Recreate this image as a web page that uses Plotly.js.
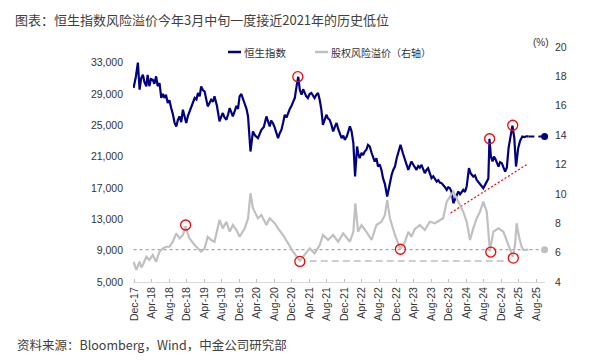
<!DOCTYPE html>
<html><head><meta charset="utf-8">
<script src="https://cdn.plot.ly/plotly-3.0.1.min.js"></script>
<style>html,body{margin:0;padding:0;background:#fff}#chart{width:600px;height:364px}</style>
</head><body><div id="chart"></div>
<script>
const hsiDates = ['2017-11-24','2017-12-10','2017-12-24',
'2018-01-05','2018-01-16','2018-01-28','2018-02-08','2018-02-21','2018-03-02','2018-03-14','2018-03-25','2018-04-07','2018-04-18','2018-04-30','2018-05-11','2018-05-24','2018-06-05','2018-06-16','2018-06-27','2018-07-08','2018-07-20','2018-08-01','2018-08-13','2018-08-24','2018-09-06','2018-09-18','2018-09-29','2018-10-10','2018-10-22','2018-11-03','2018-11-15','2018-11-26','2018-12-08','2018-12-19',
'2019-01-05','2019-01-24','2019-02-05','2019-02-16','2019-02-28','2019-03-10','2019-03-22','2019-04-03','2019-04-25','2019-05-07','2019-05-19','2019-06-01','2019-06-11','2019-06-28','2019-07-16','2019-07-28','2019-08-08','2019-08-20','2019-09-02','2019-09-14','2019-09-25','2019-10-06','2019-10-17','2019-10-30','2019-11-11','2019-11-22','2019-12-03','2019-12-15','2019-12-27',
'2020-01-08','2020-01-20','2020-01-31','2020-02-17','2020-03-05','2020-03-20','2020-04-09','2020-04-21','2020-05-03','2020-05-20','2020-06-07','2020-06-18','2020-06-30','2020-07-10','2020-07-22','2020-08-04','2020-08-27','2020-09-08','2020-09-20','2020-10-01','2020-10-13','2020-10-25','2020-11-05','2020-11-17','2020-11-29','2020-12-10','2020-12-22',
'2021-01-03','2021-01-15','2021-01-26','2021-02-07','2021-02-18','2021-03-01','2021-03-12','2021-03-23','2021-04-04','2021-04-16','2021-04-28','2021-05-09','2021-05-21','2021-06-02','2021-06-14','2021-06-25','2021-07-06','2021-07-18','2021-07-30','2021-08-10','2021-08-22','2021-09-03','2021-09-15','2021-09-27','2021-10-09','2021-10-21','2021-11-01','2021-11-13','2021-11-25','2021-12-06','2021-12-20',
'2022-01-10','2022-01-22','2022-02-03','2022-02-15','2022-03-01','2022-03-10','2022-03-19','2022-04-01','2022-04-12','2022-04-23','2022-05-05','2022-05-16','2022-05-28','2022-06-10','2022-06-21','2022-07-02','2022-07-14','2022-07-25','2022-08-06','2022-08-18','2022-08-29','2022-09-11','2022-09-27','2022-10-16','2022-10-28','2022-11-08','2022-11-20','2022-12-02','2022-12-14','2022-12-29',
'2023-01-15','2023-01-29','2023-02-10','2023-02-21','2023-03-04','2023-03-15','2023-03-27','2023-04-07','2023-04-19','2023-05-01','2023-05-12','2023-05-24','2023-06-05','2023-06-16','2023-06-28','2023-07-09','2023-07-21','2023-08-02','2023-08-14','2023-08-25','2023-09-07','2023-09-18','2023-09-29','2023-10-11','2023-10-22','2023-11-04','2023-11-16','2023-11-27','2023-12-08','2023-12-20',
'2024-01-01','2024-01-12','2024-01-24','2024-02-05','2024-02-17','2024-02-28','2024-03-10','2024-03-22','2024-04-03','2024-04-19','2024-04-30','2024-05-19','2024-05-31','2024-06-12','2024-06-23','2024-07-05','2024-07-17','2024-07-28','2024-08-09','2024-08-21','2024-09-01','2024-09-09','2024-09-19','2024-09-30','2024-10-10','2024-10-18','2024-10-30','2024-11-11','2024-11-22','2024-12-04','2024-12-16','2024-12-27',
'2025-01-08','2025-01-20','2025-02-02','2025-02-16','2025-03-01','2025-03-13','2025-03-28','2025-04-10','2025-04-26','2025-05-10','2025-05-25','2025-06-07'];
const hsiValues = [29770,31200,33000,
29550,31000,31450,30500,29970,31450,30000,30900,30800,30300,31250,30000,30400,28500,29000,28500,28900,27850,28200,27200,26500,25300,24860,25700,26140,25400,27000,26100,25290,26200,26780,
27600,28490,28300,29130,28700,29970,29500,29340,27420,27900,28270,28000,28700,27500,25500,26100,26570,26000,25710,26400,27200,26700,26140,26800,27500,27100,28700,29000,28400,
27630,27100,26140,21660,24220,23700,23370,23900,24440,24800,26140,25500,24860,25600,25290,24700,23370,24000,24440,25300,26350,26000,26570,27100,27500,28060,28500,
29970,31200,29500,28910,29600,29130,28700,28490,29000,29130,28700,28490,28900,29130,28200,27000,25070,25800,26350,25900,25710,25100,24220,24800,25290,24500,24000,23370,23700,23150,23600,
24860,24200,22730,18470,22300,21300,20820,21500,21200,21660,21900,22500,22300,21500,20900,20380,20800,19740,20000,19300,18260,17500,15910,17830,18700,19300,19740,20800,21700,22520,
21400,20600,20100,19320,19900,20380,20000,19740,19320,19800,19600,19960,19500,18900,19300,19530,18900,18260,18500,18100,17830,18000,17700,17620,17300,17100,16760,17100,16980,16500,
15060,15600,16200,16550,16200,16500,16760,16500,17190,19530,18900,18470,18600,18040,17800,17620,17300,16980,17400,17830,18200,23290,21000,20380,21000,20800,20200,19740,20300,20170,19600,19100,
19600,22090,23500,24950,23370,19740,22090,23000,23580,23500,23600,23580];

const erpDates = ['2017-11-24','2017-12-13','2018-01-05','2018-01-17','2018-01-28','2018-02-21','2018-03-14','2018-04-07','2018-04-30','2018-05-23','2018-06-16','2018-07-09','2018-08-02','2018-08-24','2018-09-18','2018-10-10','2018-11-03','2018-11-22','2018-12-06','2018-12-19','2019-01-24','2019-02-16','2019-03-10','2019-04-03','2019-04-25','2019-05-19','2019-06-11','2019-07-16','2019-08-08','2019-09-02','2019-09-25','2019-10-17','2019-11-11','2019-12-03','2020-01-08','2020-01-31','2020-02-17','2020-03-05','2020-04-09','2020-05-03','2020-06-07','2020-06-30','2020-08-04','2020-08-27','2020-10-01','2020-11-05','2020-12-10','2021-01-26','2021-03-01','2021-04-05','2021-05-09','2021-06-14','2021-07-06','2021-08-11','2021-09-15','2021-10-20','2021-11-24','2022-01-10','2022-02-03','2022-02-17','2022-03-08','2022-04-01','2022-05-05','2022-06-10','2022-07-14','2022-08-18','2022-09-11','2022-09-27','2022-10-16','2022-11-20','2022-12-26','2023-01-29','2023-02-21','2023-03-15','2023-04-07','2023-05-12','2023-06-16','2023-07-21','2023-08-25','2023-09-29','2023-10-22','2023-11-16','2023-12-08','2024-01-01','2024-02-05','2024-03-10','2024-04-03','2024-04-26','2024-05-19','2024-06-12','2024-07-05','2024-07-28','2024-08-21','2024-09-12','2024-10-06','2024-11-11','2024-12-15','2025-01-08','2025-02-01','2025-02-19','2025-03-06','2025-03-17','2025-04-03','2025-04-21','2025-05-03','2025-06-07'];
const erpValues = [5.38,4.82,5.38,5.0,5.16,5.72,5.50,5.84,5.38,6.06,6.29,6.40,6.40,6.74,7.31,6.97,7.20,7.80,7.30,6.97,6.52,6.29,6.06,6.29,7.08,6.86,6.74,8.22,7.65,8.10,7.42,7.88,7.54,7.08,7.65,8.34,10.04,9.02,8.34,8.56,7.88,8.34,8.00,7.65,7.20,6.63,6.06,5.45,5.84,6.29,5.95,6.52,7.20,6.86,7.20,6.74,7.31,6.74,7.42,9.36,7.42,7.88,7.42,6.86,7.88,8.10,8.56,9.58,8.34,7.20,6.25,6.74,7.42,7.08,7.60,7.88,7.54,8.10,8.00,8.22,8.34,9.47,9.81,10.15,9.47,8.79,8.10,6.86,7.65,8.34,8.79,9.47,8.79,6.10,7.42,7.65,7.42,6.86,6.18,5.70,6.52,8.00,7.08,6.40,6.18,6.20];

// reference levels & projections
const erpLevelDates = ['2017-11-24','2025-09-28'];
const erpLevelValues = [6.2,6.2];
const erpLowDates = ['2021-04-05','2025-01-20'];
const erpLowValues = [5.43,5.43];
const hsiExtDates = ['2025-06-07','2025-09-28'];
const hsiExtValues = [23580,23580];
const trendDates = ['2023-12-13','2025-06-04'];
const trendValues = [13820,20090];

// highlighted points
const circHsiDates = ['2021-01-12','2024-09-10','2025-02-18'];
const circHsiValues = [31210,23290,25010];
const circErpDates = ['2018-11-22','2021-01-26','2022-12-28','2024-09-18','2025-02-22'];
const circErpValues = [7.88,5.40,6.23,6.04,5.63];

const tickDates = ['2017-12-01','2018-04-01','2018-08-01','2018-12-01','2019-04-01','2019-08-01','2019-12-01','2020-04-01','2020-08-01','2020-12-01','2021-04-01','2021-08-01','2021-12-01','2022-04-01','2022-08-01','2022-12-01','2023-04-01','2023-08-01','2023-12-01','2024-04-01','2024-08-01','2024-12-01','2025-04-01','2025-08-01'];
const leftTicks = [5000,9000,13000,17000,21000,25000,29000,33000];
const rightTicks = [4,6,8,10,12,14,16,18,20];

const NAVY = '#000080', GREY = '#C0C0C0', RED = '#FF0000';
const LAT = 'Liberation Sans, Arial, Noto Sans CJK SC, sans-serif';
const CJK = 'Noto Sans CJK SC, Liberation Sans, sans-serif';

const last = a => [a[a.length - 1]];

const traces = [
  {x: erpLevelDates, y: erpLevelValues, yaxis: 'y2', mode: 'lines', line: {color: '#A6A6A6', width: 1.2, dash: '3px,3px'}},
  {x: last(erpLevelDates), y: last(erpLevelValues), yaxis: 'y2', mode: 'markers', marker: {size: 7, color: '#BFBFBF'}, cliponaxis: false},
  {x: erpLowDates, y: erpLowValues, yaxis: 'y2', mode: 'lines', line: {color: '#BFBFBF', width: 1.5, dash: '7px,4px'}},
  {x: erpDates, y: erpValues, yaxis: 'y2', mode: 'lines', line: {color: GREY, width: 2.2}},
  {x: hsiDates, y: hsiValues, yaxis: 'y', mode: 'lines', line: {color: NAVY, width: 2.2}},
  {x: hsiExtDates, y: hsiExtValues, yaxis: 'y', mode: 'lines', line: {color: NAVY, width: 2, dash: '6px,4px'}},
  {x: last(hsiExtDates), y: last(hsiExtValues), yaxis: 'y', mode: 'markers', marker: {size: 7, color: NAVY}, cliponaxis: false},
  {x: trendDates, y: trendValues, yaxis: 'y', mode: 'lines', line: {color: RED, width: 1.2, dash: '2px,2px'}},
  {x: circHsiDates, y: circHsiValues, yaxis: 'y', mode: 'markers', marker: {symbol: 'circle-open', size: 10, color: RED, line: {width: 1.3, color: RED}}, cliponaxis: false},
  {x: circErpDates, y: circErpValues, yaxis: 'y2', mode: 'markers', marker: {symbol: 'circle-open', size: 10, color: RED, line: {width: 1.3, color: RED}}, cliponaxis: false}
];

const L = 133, T = 47, W = 412, H = 235;
const px = v => (v - L) / W, py = v => (T + H - v) / H;

const layout = {
  width: 600, height: 364,
  margin: {l: L, r: 600 - L - W, t: T, b: 364 - T - H},
  paper_bgcolor: '#fff', plot_bgcolor: '#fff',
  showlegend: false,
  font: {family: LAT, size: 10.5, color: '#333'},
  title: {text: '图表：恒生指数风险溢价今年3月中旬一度接近2021年的历史低位', x: 15/600, xanchor: 'left', xref: 'container', y: 1 - 20/364, yanchor: 'middle', yref: 'container', font: {family: CJK, size: 13, color: '#404040', weight: 400}},
  xaxis: {type: 'date', range: ['2017-11-20','2025-10-01'], tickvals: tickDates, tickformat: '%b-%y', tickangle: -90, ticks: 'inside', ticklen: 3, tickcolor: '#BFBFBF', showline: true, linecolor: '#D9D9D9', linewidth: 1, showgrid: false, zeroline: false, tickfont: {size: 10.5, color: '#333'}},
  yaxis: {range: [5000, 35000], tickvals: leftTicks, tickformat: ',d', showgrid: false, zeroline: false, showline: false, ticks: '', ticklabelstandoff: 9, tickfont: {size: 10.5, color: '#333'}},
  yaxis2: {range: [4, 20], tickvals: rightTicks, overlaying: 'y', side: 'right', showgrid: false, zeroline: false, showline: false, ticks: '', ticklabelstandoff: 9, tickfont: {size: 10.5, color: '#333'}},
  shapes: [
    {type: 'line', xref: 'paper', yref: 'paper', x0: px(228), x1: px(241), y0: py(52), y1: py(52), line: {color: NAVY, width: 2.5}},
    {type: 'line', xref: 'paper', yref: 'paper', x0: px(315), x1: px(328), y0: py(52), y1: py(52), line: {color: GREY, width: 2.5}}
  ],
  annotations: [
    {text: '恒生指数', xref: 'paper', yref: 'paper', x: px(242), y: py(52), xanchor: 'left', yanchor: 'middle', showarrow: false, font: {family: CJK, size: 10.5, color: '#333'}},
    {text: '股权风险溢价（右轴）', xref: 'paper', yref: 'paper', x: px(329), y: py(52), xanchor: 'left', yanchor: 'middle', showarrow: false, font: {family: CJK, size: 10, color: '#333'}},
    {text: '(%)', xref: 'paper', yref: 'paper', x: px(541), y: py(42), xanchor: 'center', yanchor: 'middle', showarrow: false, font: {family: LAT, size: 10, color: '#333'}},
    {text: '资料来源：Bloomberg，Wind，中金公司研究部', xref: 'paper', yref: 'paper', x: px(15), y: py(344), xanchor: 'left', yanchor: 'middle', showarrow: false, font: {family: CJK, size: 12.5, color: '#404040'}}
  ]
};

Plotly.newPlot('chart', traces, layout, {staticPlot: true, displayModeBar: false});
</script></body></html>
